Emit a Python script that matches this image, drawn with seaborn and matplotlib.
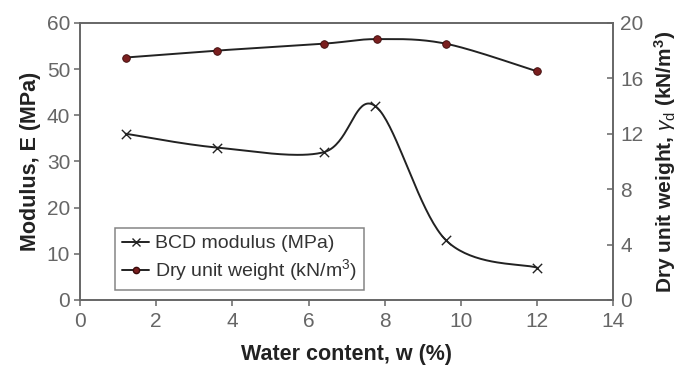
import numpy as np
import pandas as pd
import matplotlib
matplotlib.use("Agg")
import matplotlib.pyplot as plt
from matplotlib.lines import Line2D
import seaborn as sns

# data
water_content = [1.2, 3.6, 6.4, 7.75, 9.6, 12.0]
bcd_modulus = [36.0, 33.0, 32.0, 42.0, 13.0, 7.0]
dry_water = [1.2, 3.6, 6.4, 7.8, 9.6, 12.0]
dry_unit_weight = [17.5, 18.0, 18.5, 18.83, 18.5, 16.5]


def smooth_line(x, y, n=40):
    """Spreadsheet-style smoothed line (Catmull-Rom as cubic Bezier) through the points."""
    p = np.column_stack([x, y]).astype(float)
    ext = np.vstack([p[0], p, p[-1]])
    t = np.linspace(0, 1, n)[:, None]
    out = []
    for i in range(len(p) - 1):
        p0, p3 = ext[i + 1], ext[i + 2]
        c1 = p0 + (ext[i + 2] - ext[i]) / 6
        c2 = p3 - (ext[i + 3] - ext[i + 1]) / 6
        seg = ((1 - t) ** 3) * p0 + 3 * ((1 - t) ** 2) * t * c1 + 3 * (1 - t) * t**2 * c2 + t**3 * p3
        out.append(seg if i == 0 else seg[1:])
    out = np.vstack(out)
    return pd.DataFrame({"x": out[:, 0], "y": out[:, 1]})


sns.set_style("white")
plt.rcParams["font.family"] = ["Liberation Sans", "DejaVu Sans"]
plt.rcParams["mathtext.fontset"] = "custom"
plt.rcParams["mathtext.rm"] = "Liberation Sans"
plt.rcParams["mathtext.it"] = "Liberation Sans:italic"
plt.rcParams["mathtext.bf"] = "Liberation Sans:bold"

fig = plt.figure(figsize=(6.83, 3.69), dpi=100)
ax = fig.add_axes([0.117, 0.187, 0.781, 0.751])
ax2 = ax.twinx()

frame = "#666666"
tick_col = "#666666"
red = "#7a1f1f"

# modulus on left axis
mod_curve = smooth_line(water_content, bcd_modulus)
sns.lineplot(data=mod_curve, x="x", y="y", ax=ax, color="#222222", lw=1.4, sort=False)
sns.scatterplot(x=water_content, y=bcd_modulus, ax=ax, marker="x", s=45,
                color="#222222", linewidth=1.0)

# dry unit weight on right axis
dry_curve = smooth_line(dry_water, dry_unit_weight)
sns.lineplot(data=dry_curve, x="x", y="y", ax=ax2, color="#222222", lw=1.4, sort=False)
sns.scatterplot(x=dry_water, y=dry_unit_weight, ax=ax2, marker="o", s=30,
                color=red, edgecolor="#3a0a0a", linewidth=0.6, zorder=5)

ax.set_xlim(0, 14)
ax.set_ylim(0, 60)
ax2.set_ylim(0, 20)
ax.set_xticks(range(0, 15, 2))
ax.set_yticks(range(0, 61, 10))
ax2.set_yticks(range(0, 21, 4))

for a in (ax, ax2):
    for s in a.spines.values():
        s.set_color(frame)
        s.set_linewidth(1.2)

ax.tick_params(axis="both", direction="out", length=4, width=1.1, color=frame,
               labelsize=15, labelcolor=tick_col, pad=3, left=True, bottom=True)
ax.tick_params(axis="x", pad=5)
ax2.tick_params(axis="y", direction="in", length=4, width=1.1, color=frame,
                labelsize=15, labelcolor=tick_col, pad=5, right=True)

ax.set_xlabel("Water content, w (%)", fontsize=15.5, fontweight="bold", color="#222222", labelpad=9)
ax.set_ylabel("Modulus, E (MPa)", fontsize=15.5, fontweight="bold", color="#222222", labelpad=4)
ax2.set_ylabel(r"Dry unit weight, $\gamma_{\rm d}$ (kN/m$^\mathbf{3}$)", fontsize=15,
               fontweight="bold", color="#222222", labelpad=6)

handles = [
    Line2D([], [], color="#222222", lw=1.4, marker="x", markersize=6, label="BCD modulus (MPa)"),
    Line2D([], [], color="#222222", lw=1.4, marker="o", markersize=4.5,
           markerfacecolor=red, markeredgecolor="#3a0a0a", label="Dry unit weight (kN/m$^3$)"),
]
leg = ax2.legend(handles=handles, loc="lower left", bbox_to_anchor=(0.066, 0.036),
                 fontsize=14, frameon=True, fancybox=False, edgecolor=frame,
                 handlelength=1.4, handletextpad=0.3, borderpad=0.35, labelspacing=0.25,
                 borderaxespad=0)
leg.get_frame().set_linewidth(1.1)
for t in leg.get_texts():
    t.set_color("#333333")

fig.savefig("out.png", dpi=100)
